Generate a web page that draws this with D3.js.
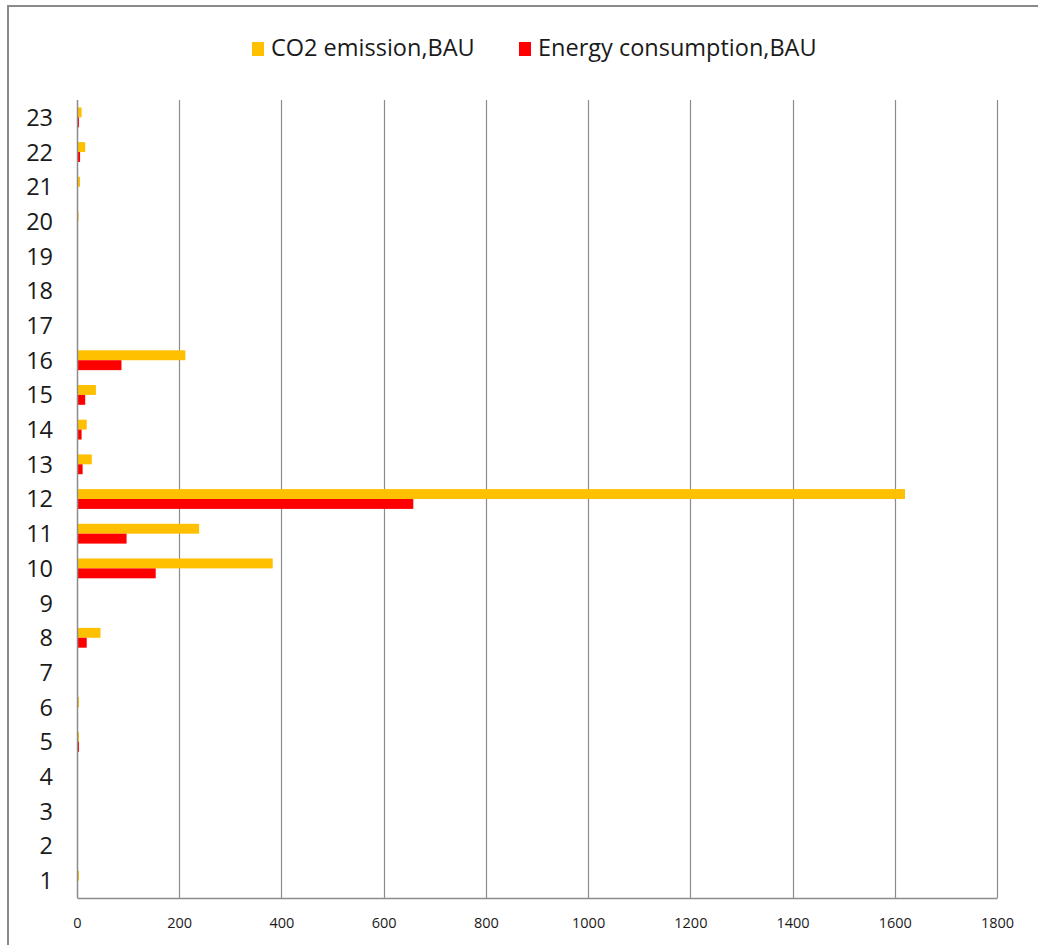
<!DOCTYPE html>
<html>
<head>
<meta charset="utf-8">
<script src="https://cdn.jsdelivr.net/npm/d3@7/dist/d3.min.js"></script>
<style>
  html, body { margin: 0; padding: 0; background: #fff; }
  svg { display: block; }
  text { font-family: "Open Sans", Lato, sans-serif; fill: #1a1a1a; }
</style>
</head>
<body>
<svg id="chart" width="1038" height="945"></svg>
<script>
// Categories 1..23 and the two BAU series
const categories = ["1","2","3","4","5","6","7","8","9","10","11","12","13","14","15","16","17","18","19","20","21","22","23"];
const seriesNames = ["CO2 emission,BAU", "Energy consumption,BAU"];
const co2Emission = [4, 0, 0, 0, 4, 4, 0, 46, 0, 383, 239, 1620, 29, 19, 37, 212, 0, 0, 0, 3, 6, 16, 9];
const energyConsumption = [0, 0, 0, 0, 4, 0, 0, 19, 0, 154, 97, 658, 11, 9, 16, 87, 0, 0, 0, 0, 0, 6, 4];
const xTicks = [0, 200, 400, 600, 800, 1000, 1200, 1400, 1600, 1800];
const colors = ["#FFC000", "#FF0000"];

const FONT = '"Open Sans", Lato, sans-serif';
const svg = d3.select("#chart");

// outer chart frame (runs past the right and bottom edges)
svg.append("rect")
  .attr("x", 8).attr("y", 6)
  .attr("width", 1100).attr("height", 1000)
  .attr("fill", "none").attr("stroke", "#8a8a8a").attr("stroke-width", 2);

const plot = { left: 77, right: 997, top: 100, bottom: 898 };

const x = d3.scaleLinear().domain([0, 1800]).range([plot.left, plot.right]);

// bar groups: two bars per category, 150% gap between groups
const y = d3.scaleBand()
  .domain(categories.slice().reverse())
  .range([plot.top, plot.bottom])
  .paddingInner(1.5 / 3.5)
  .paddingOuter(0.75 / 3.5);

const ySub = d3.scaleBand().domain([0, 1]).range([0, y.bandwidth()]);

// vertical gridlines
svg.append("g")
  .selectAll("line")
  .data(xTicks.filter(d => d > 0))
  .join("line")
  .attr("x1", d => Math.round(x(d)) + 0.5)
  .attr("x2", d => Math.round(x(d)) + 0.5)
  .attr("y1", plot.top)
  .attr("y2", plot.bottom)
  .attr("stroke", "#8c8c8c")
  .attr("stroke-width", 1.2);

// bars
const rows = categories.map((c, i) => ({ cat: c, vals: [co2Emission[i], energyConsumption[i]] }));
const groups = svg.append("g")
  .selectAll("g")
  .data(rows)
  .join("g")
  .attr("transform", d => `translate(0,${y(d.cat)})`);

groups.selectAll("rect")
  .data(d => d.vals.map((v, k) => ({ v, k })))
  .join("rect")
  .attr("x", x(0))
  .attr("y", d => ySub(d.k))
  .attr("width", d => x(d.v) - x(0))
  .attr("height", ySub.bandwidth())
  .attr("fill", d => colors[d.k]);

// axes
const xAxis = d3.axisBottom(x).tickValues(xTicks).tickFormat(d3.format("d")).tickSize(0);
const gx = svg.append("g").attr("transform", `translate(0,${plot.bottom})`).call(xAxis);
gx.select(".domain").attr("stroke", "#8c8c8c").attr("stroke-width", 1.5);
gx.selectAll("text").attr("font-size", 14.5).attr("fill", "#1a1a1a")
  .attr("y", 30).attr("dy", 0)
  .style("font-family", FONT);

const yAxis = d3.axisLeft(y).tickSize(0).tickPadding(24);
const gy = svg.append("g").attr("transform", `translate(${plot.left},0)`).call(yAxis);
gy.select(".domain").attr("stroke", "#8c8c8c").attr("stroke-width", 1.5)
  .attr("d", `M0.5,${plot.top}V${plot.bottom}`);
gy.selectAll("text").attr("font-size", 23.5).attr("fill", "#1a1a1a")
  .attr("dy", "0.36em")
  .style("font-family", FONT);

// legend
const legendItems = [
  { name: seriesNames[0], color: colors[0], x: 252 },
  { name: seriesNames[1], color: colors[1], x: 519 }
];
const lg = svg.append("g").selectAll("g").data(legendItems).join("g")
  .attr("transform", d => `translate(${d.x},0)`);
lg.append("rect").attr("x", 0).attr("y", 42).attr("width", 12).attr("height", 14)
  .attr("fill", d => d.color);
lg.append("text").attr("x", 19).attr("y", 56).attr("font-size", 23.5)
  .style("font-family", FONT)
  .text(d => d.name);
</script>
</body>
</html>
